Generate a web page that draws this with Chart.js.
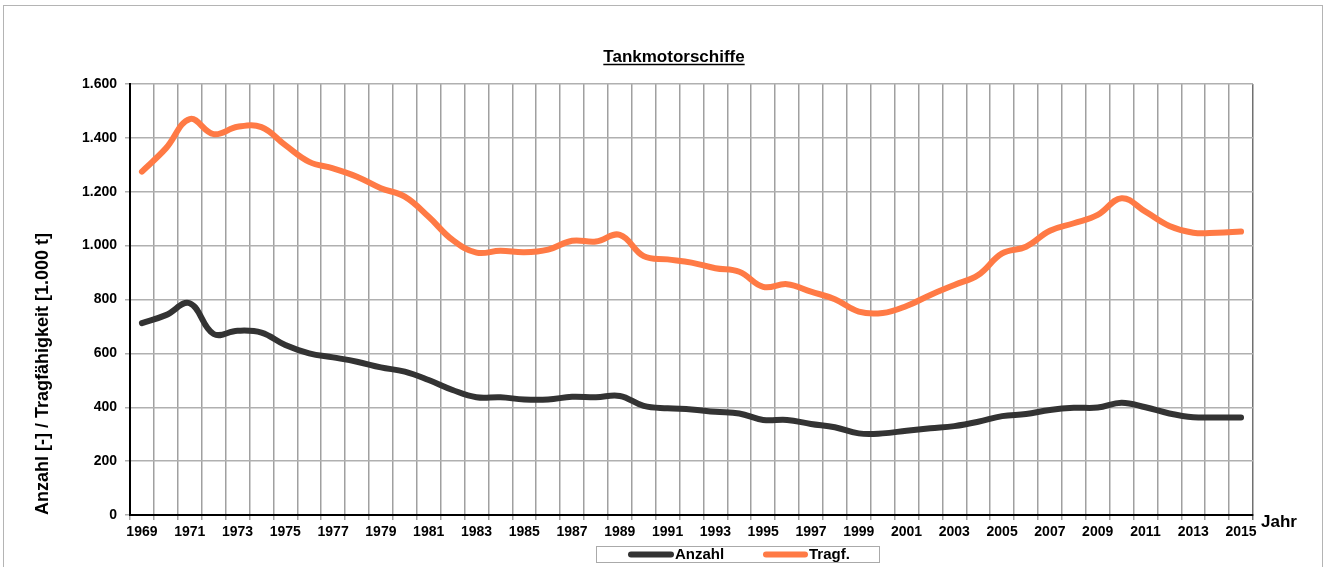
<!DOCTYPE html>
<html>
<head>
<meta charset="utf-8">
<script src="https://cdn.jsdelivr.net/npm/chart.js@4.4.1/dist/chart.umd.min.js"></script>
<style>
    body { margin: 0; background: #fff; }
    #wrap { width: 1327px; height: 567px; position: relative; }
</style>
</head>
<body>
<div id="wrap"><canvas id="tank-chart"></canvas></div>
<script>
// Data
const years = ['1969', '1970', '1971', '1972', '1973', '1974', '1975', '1976', '1977', '1978',
    '1979', '1980', '1981', '1982', '1983', '1984', '1985', '1986', '1987', '1988',
    '1989', '1990', '1991', '1992', '1993', '1994', '1995', '1996', '1997', '1998',
    '1999', '2000', '2001', '2002', '2003', '2004', '2005', '2006', '2007', '2008',
    '2009', '2010', '2011', '2012', '2013', '2014', '2015'];
const anzahl = [712, 742, 786, 672, 684, 677, 631, 600, 585, 569,
    548, 532, 501, 464, 437, 437, 429, 429, 439, 437,
    442, 405, 396, 392, 383, 377, 353, 353, 338, 326,
    303, 303, 313, 322, 330, 346, 367, 375, 390, 398,
    399, 417, 400, 377, 363, 362, 362];
const tragf = [1275, 1361, 1470, 1414, 1441, 1440, 1373, 1311, 1287, 1256,
    1213, 1182, 1107, 1021, 974, 981, 975, 985, 1018, 1015,
    1040, 961, 949, 937, 916, 903, 847, 857, 829, 801,
    755, 750, 776, 817, 854, 891, 971, 996, 1055, 1083,
    1114, 1176, 1126, 1073, 1048, 1048, 1052];
const seriesNames = ['Anzahl', 'Tragf.'];
const yTicks = [0, 200, 400, 600, 800, 1000, 1200, 1400, 1600];
const chartTitle = 'Tankmotorschiffe';

const FONT = "'Liberation Sans', Arial, sans-serif";

// format numbers with a dot as thousands separator (1.600)
function formatDe(v) {
    if (v >= 1000) return Math.floor(v / 1000) + '.' + String(v % 1000).padStart(3, '0');
    return String(v);
}

// Extra drawing: background, frame, underlined title, "Jahr", legend box
const decorations = {
    id: 'decorations',
    beforeDraw(chart) {
        const ctx = chart.ctx;
        ctx.save();
        ctx.fillStyle = '#fff';
        ctx.fillRect(0, 0, chart.width, chart.height);
        ctx.restore();
    },
    afterDraw(chart) {
        const ctx = chart.ctx;
        const area = chart.chartArea;
        ctx.save();

        // outer frame
        ctx.strokeStyle = '#b4b4b4';
        ctx.lineWidth = 1;
        ctx.strokeRect(3.5, 5.5, 1319, 600);

        // title, underlined
        ctx.fillStyle = '#000';
        ctx.font = 'bold 17px ' + FONT;
        ctx.textAlign = 'center';
        ctx.textBaseline = 'alphabetic';
        const cx = 674;
        ctx.fillText(chartTitle, cx, 62);
        const tw = ctx.measureText(chartTitle).width;
        ctx.strokeStyle = '#000';
        ctx.lineWidth = 1.5;
        ctx.beginPath();
        ctx.moveTo(cx - tw / 2, 64.5);
        ctx.lineTo(cx + tw / 2, 64.5);
        ctx.stroke();

        // axis name at the end of the x axis
        ctx.font = 'bold 17px ' + FONT;
        ctx.textAlign = 'left';
        ctx.fillText('Jahr', area.right + 8, 527);

        // legend
        ctx.strokeStyle = '#aaa';
        ctx.lineWidth = 1;
        ctx.strokeRect(596.5, 546.5, 283, 16);
        const items = [{ x: 628, len: 46 }, { x: 763, len: 45 }];
        ctx.font = 'bold 15px ' + FONT;
        ctx.textBaseline = 'middle';
        chart.data.datasets.forEach((ds, i) => {
            const it = items[i];
            ctx.strokeStyle = ds.borderColor;
            ctx.lineWidth = 6;
            ctx.lineCap = 'round';
            ctx.beginPath();
            ctx.moveTo(it.x + 3, 554.5);
            ctx.lineTo(it.x + it.len - 3, 554.5);
            ctx.stroke();
            ctx.fillStyle = '#000';
            ctx.fillText(ds.label, it.x + it.len + 1, 555);
        });
        ctx.restore();
    }
};

const config = {
    type: 'line',
    data: {
        labels: years,
        datasets: [{
            label: seriesNames[0],
            data: anzahl,
            borderColor: '#333333',
            backgroundColor: '#333333',
            borderWidth: 6,
            pointRadius: 0,
            tension: 0.4,
            borderCapStyle: 'round',
            borderJoinStyle: 'round'
        }, {
            label: seriesNames[1],
            data: tragf,
            borderColor: '#FF7A45',
            backgroundColor: '#FF7A45',
            borderWidth: 6,
            pointRadius: 0,
            tension: 0.4,
            borderCapStyle: 'round',
            borderJoinStyle: 'round'
        }]
    },
    options: {
        responsive: true,
        maintainAspectRatio: false,
        animation: false,
        layout: { padding: { left: 0, right: 74, top: 84, bottom: 0 } },
        plugins: {
            legend: { display: false },
            tooltip: { enabled: false },
            title: { display: false }
        },
        scales: {
            x: {
                offset: true,
                grid: {
                    offset: true,
                    color: ctx => ctx.type === 'tick' ? '#a0a0a0' : '#707070',
                    lineWidth: 1.5,
                    tickLength: 5
                },
                border: { color: '#000', width: 2 },
                ticks: {
                    autoSkip: false,
                    maxRotation: 0,
                    padding: 4,
                    color: '#000',
                    font: { family: FONT, size: 14, weight: 'bold' },
                    callback: function (val, index) {
                        return index % 2 === 0 ? this.getLabelForValue(val) : '';
                    }
                },
                afterFit: scale => { scale.height = 52; }
            },
            y: {
                min: 0,
                max: 1600,
                afterBuildTicks: scale => { scale.ticks = yTicks.map(v => ({ value: v })); },
                grid: { color: '#b0b0b0', lineWidth: 1.5, tickLength: 5 },
                border: { color: '#000', width: 2 },
                ticks: {
                    padding: 8,
                    color: '#000',
                    font: { family: FONT, size: 14, weight: 'bold' },
                    callback: v => formatDe(v)
                },
                title: {
                    display: true,
                    text: 'Anzahl [-] / Tragfähigkeit [1.000 t]',
                    align: 'start',
                    color: '#000',
                    font: { family: FONT, size: 18, weight: 'bold' },
                    padding: { top: 32, bottom: 0 }
                },
                afterFit: scale => { scale.width = 130; }
            }
        }
    },
    plugins: [decorations]
};

const tankChart = new Chart(document.getElementById('tank-chart'), config);
</script>
</body>
</html>
